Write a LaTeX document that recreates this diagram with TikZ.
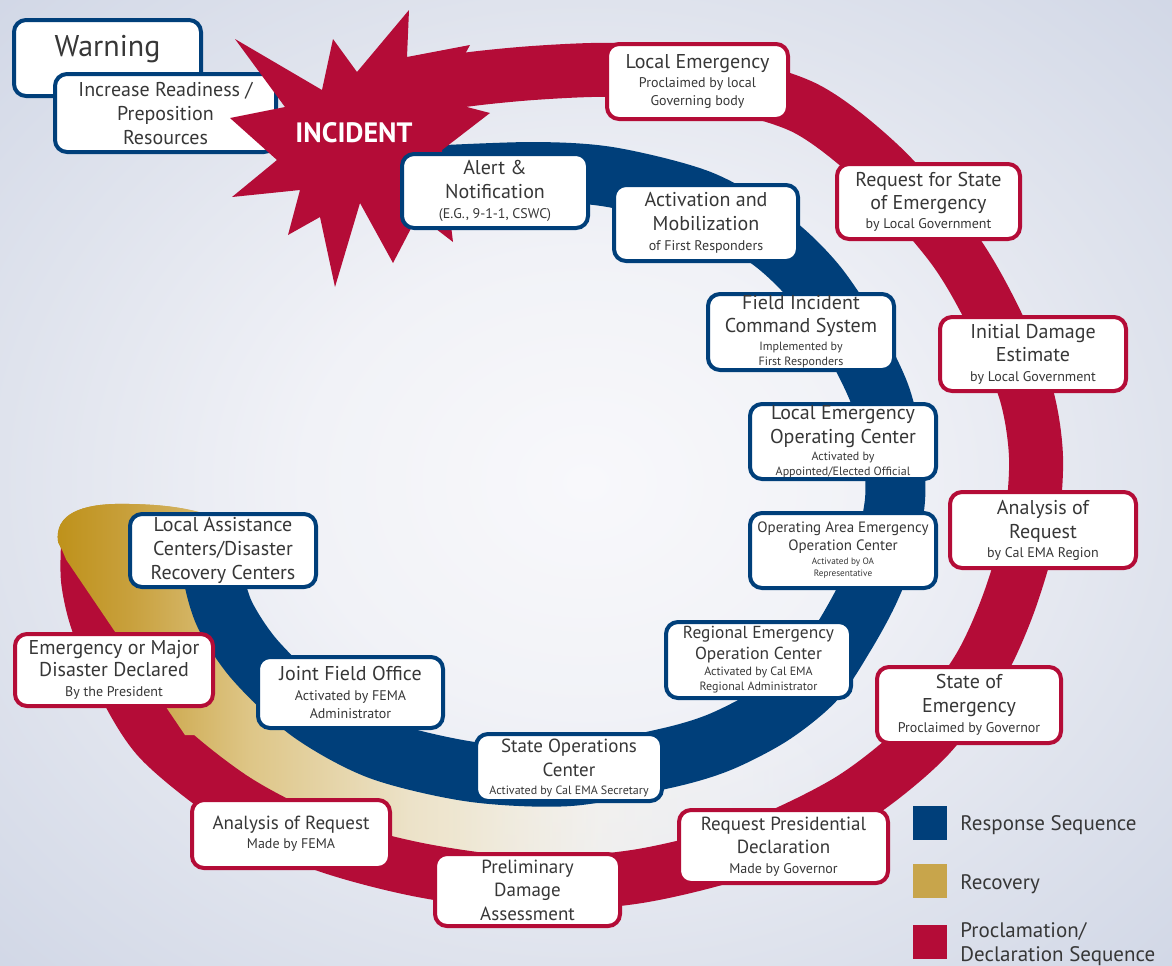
\documentclass[tikz,border=0pt]{standalone}
\usepackage{fontspec}
\setmainfont{PT Sans}
\usetikzlibrary{fadings}
\definecolor{cblue}{RGB}{0,63,122}
\definecolor{cred}{RGB}{180,12,55}
\definecolor{cgold}{RGB}{200,165,75}
\definecolor{ctext}{RGB}{55,55,55}
\definecolor{bgA}{RGB}{248,248,251}
\definecolor{bgB}{RGB}{241,242,247}
\definecolor{bgC}{RGB}{223,227,237}
\definecolor{bgD}{RGB}{209,215,230}
\definecolor{gA}{RGB}{190,145,25}
\definecolor{gB}{RGB}{200,160,60}
\definecolor{gC}{RGB}{222,198,135}
\definecolor{gD}{RGB}{236,226,200}
\definecolor{gE}{RGB}{246,243,236}
\definecolor{gF}{RGB}{246,246,248}
\pgfdeclareradialshading{bgshade}{\pgfpoint{0bp}{0bp}}{color(0bp)=(bgA); color(12bp)=(bgB); color(25bp)=(bgC); color(36bp)=(bgD); color(50bp)=(bgD)}
\pgfdeclarehorizontalshading{goldfade}{100bp}{color(0bp)=(gA); color(25bp)=(gA); color(29.7bp)=(gB); color(37.3bp)=(gC); color(47.3bp)=(gD); color(59.3bp)=(gE); color(72bp)=(gF); color(100bp)=(gF)}
\tikzfading[name=goldout, left color=transparent!0, right color=transparent!100, middle color=transparent!0]
\newcommand\szA{\fontsize{10}{12}\selectfont}
\newcommand\szB{\fontsize{7}{8}\selectfont}
\newcommand\szC{\fontsize{6}{7}\selectfont}
\newcommand\szD{\fontsize{4.6}{5.5}\selectfont}
\newcommand\szE{\fontsize{7.5}{9}\selectfont}
\newcommand\szF{\fontsize{8.7}{10}\selectfont}
\newcommand\szG{\fontsize{9.5}{12}\selectfont}
\newcommand\szW{\fontsize{15}{18}\selectfont}
\newcommand\szL{\fontsize{10.5}{13}\selectfont}
\newcommand\goldpath{(58,542) .. controls (54,514) and (82,504) .. (120,504) .. controls (150,504) and (180,506) .. (205,514) -- plot[smooth] coordinates {(210,540) (213,575) (225,615) (255,660) (310,712) (380,750) (473,772) (570,776) (667,758) (720,742) (772,715)} -- plot[smooth] coordinates {(850,800) (750,845) (640,873) (530,880) (420,866) (320,838) (235,795) (170,740) (125,675) (95,620) (75,580) (62,550)} -- cycle}
\tikzset{
  box/.style={draw, line width=2pt, rounded corners=6pt, fill=white, align=center, inner sep=0pt, font=\szA, text=ctext},
  bb/.style={box, draw=cblue},
  rb/.style={box, draw=cred},
  legsq/.style={minimum size=17pt, inner sep=0pt},
  legtx/.style={font=\szL, text=ctext, inner sep=0pt, anchor=base west},
  goldband/.style={shading=goldfade, path fading=goldout}
}
\begin{document}
\begin{tikzpicture}[x=0.5pt,y=-0.5pt]
\useasboundingbox (0,0) rectangle (1172,965);
\shade[shading=bgshade] (0,0) rectangle (1172,965);
% recovery band
\shade[goldband] \goldpath;
% proclamation band
\draw[cred, line width=27pt] plot[smooth] coordinates {(385,98) (450,82) (533,73) (620,70) (710,80) (805,108) (880,165) (951,245) (990,310) (1025,390) (1036,457) (1030,530) (1008,605) (978,670) (925,740) (850,800) (750,848) (640,876) (530,884) (420,870) (320,843) (235,800) (160,740) (122,680) (97,620) (88,580) (88,545)};
\begin{scope}
\clip (40,470) -- (300,470) -- (300,735) -- (185,735) -- (63,555) -- (40,555) -- cycle;
\shade[goldband] \goldpath;
\end{scope}
% response band
\draw[cblue, line width=30pt] plot[smooth] coordinates {(425,176) (533,172) (610,177) (700,200) (770,240) (815,283) (852,338) (880,395) (893,450) (895,500) (885,550) (868,593) (845,635) (815,680) (772,715) (720,742) (667,758) (570,776) (473,772) (380,750) (310,712) (255,660) (225,615) (213,575) (210,540)};
% warning boxes
\node[bb, minimum width=93.5pt, minimum height=38pt] (warn) at (107.5,58) {\szW\smash{\raisebox{1pt}{Warning}}};
\node[bb, minimum width=110.5pt, minimum height=39pt] (incr) at (165.5,113) {Increase Readiness /\\Preposition\\Resources};
% incident star
\fill[cred] (409,10) -- (407,57) -- (470,45) -- (440,100) -- (490,113) -- (442,150) -- (453,242) -- (418,215) -- (393,263) -- (360,203) -- (335,287) -- (320,217) -- (288,235) -- (300,190) -- (232,197) -- (277,160) -- (230,118) -- (285,107) -- (235,39) -- (322,90) -- (333,39) -- (357,72) -- cycle;
\node[font=\fontsize{14}{16}\selectfont\bfseries, text=white, inner sep=0pt] (inc) at (354,133) {INCIDENT};
% response boxes
\node[bb, minimum width=93pt, minimum height=37pt] (alert) at (495,191) {Alert \&\\Notification\\[-2pt]{\szB (E.G., 9-1-1, CSWC)}};
\node[bb, minimum width=92pt, minimum height=38pt] (activ) at (706,223) {Activation and\\Mobilization\\[-2pt]{\szB of First Responders}};
\node[bb, minimum width=93pt, minimum height=38pt] (field) at (801,332) {Field Incident\\[-0.5pt]Command System\\[-3pt]{\szC Implemented by}\\[-4.5pt]{\szC First Responders}};
\node[bb, minimum width=93pt, minimum height=37.5pt] (leoc) at (843,441.5) {Local Emergency\\Operating Center\\[-3.5pt]{\szC Activated by}\\[-4.5pt]{\szC Appointed/Elected Official}};
\node[bb, minimum width=93pt, minimum height=37.5pt, font=\szE] (oa) at (843,550.5) {Operating Area Emergency\\Operation Center\\[-2pt]{\szD Activated by OA}\\[-3pt]{\szD Representative}};
\node[bb, minimum width=92.5pt, minimum height=38pt, font=\szF] (reoc) at (758.5,660) {Regional Emergency\\[0.5pt]Operation Center\\[-2pt]{\szC Activated by Cal EMA}\\[-2.5pt]{\szC Regional Administrator}};
\node[bb, minimum width=93pt, minimum height=33.5pt, font=\szG] (soc) at (569,767.5) {State Operations\\Center\\[-3pt]{\szC Activated by Cal EMA Secretary}};
\node[bb, minimum width=92.5pt, minimum height=35.5pt] (jfo) at (350.5,692.5) {Joint Field Office\\[-2pt]{\szB Activated by FEMA}\\[-3pt]{\szB Administrator}};
\node[bb, minimum width=93pt, minimum height=36.5pt] (lac) at (223,550.5) {Local Assistance\\Centers/Disaster\\Recovery Centers};
% proclamation boxes
\node[rb, minimum width=90.5pt, minimum height=37.5pt] (lem) at (697.5,81.5) {Local Emergency\\[-2.5pt]{\szB Proclaimed by local}\\[-3pt]{\szB Governing body}};
\node[rb, minimum width=91.5pt, minimum height=37.5pt] (rse) at (928.5,201.5) {Request for State\\[-0.5pt]of Emergency\\[-2.5pt]{\szB by Local Government}};
\node[rb, minimum width=93pt, minimum height=37pt] (ide) at (1033,354) {Initial Damage\\[-0.5pt]Estimate\\[-2pt]{\szB by Local Government}};
\node[rb, minimum width=93pt, minimum height=38pt] (aor) at (1043,530) {Analysis of\\Request\\[-2.5pt]{\szB by Cal EMA Region}};
\node[rb, minimum width=92pt, minimum height=38pt] (soe) at (969,705) {State of\\Emergency\\[-2pt]{\szB Proclaimed by Governor}};
\node[rb, minimum width=104.5pt, minimum height=36.5pt, font=\szG] (rpd) at (783.5,846.5) {Request Presidential\\[-0.5pt]Declaration\\[-2pt]{\szB Made by Governor}};
\node[rb, minimum width=92.5pt, minimum height=36pt, font=\szG] (pda) at (527.5,890) {Preliminary\\[-0.5pt]Damage\\Assessment};
\node[rb, minimum width=99pt, minimum height=34pt, font=\szG] (aof) at (291,834) {Analysis of Request\\[-2.5pt]{\szB Made by FEMA}};
\node[rb, minimum width=99pt, minimum height=36pt] (emd) at (114,670) {Emergency or Major\\[-1pt]Disaster Declared\\[-2pt]{\szB By the President}};
% legend
\node[legsq, fill=cblue] (lg1) at (930,823) {};
\node[legsq, fill=cgold] (lg2) at (930,880.5) {};
\node[legsq, fill=cred] (lg3) at (930,941.5) {};
\node[legtx] (lt1) at (960,830) {Response Sequence};
\node[legtx] (lt2) at (960,889) {Recovery};
\node[legtx] (lt3) at (960,937) {Proclamation/};
\node[legtx] (lt4) at (960,961) {Declaration Sequence};
\end{tikzpicture}
\end{document}
